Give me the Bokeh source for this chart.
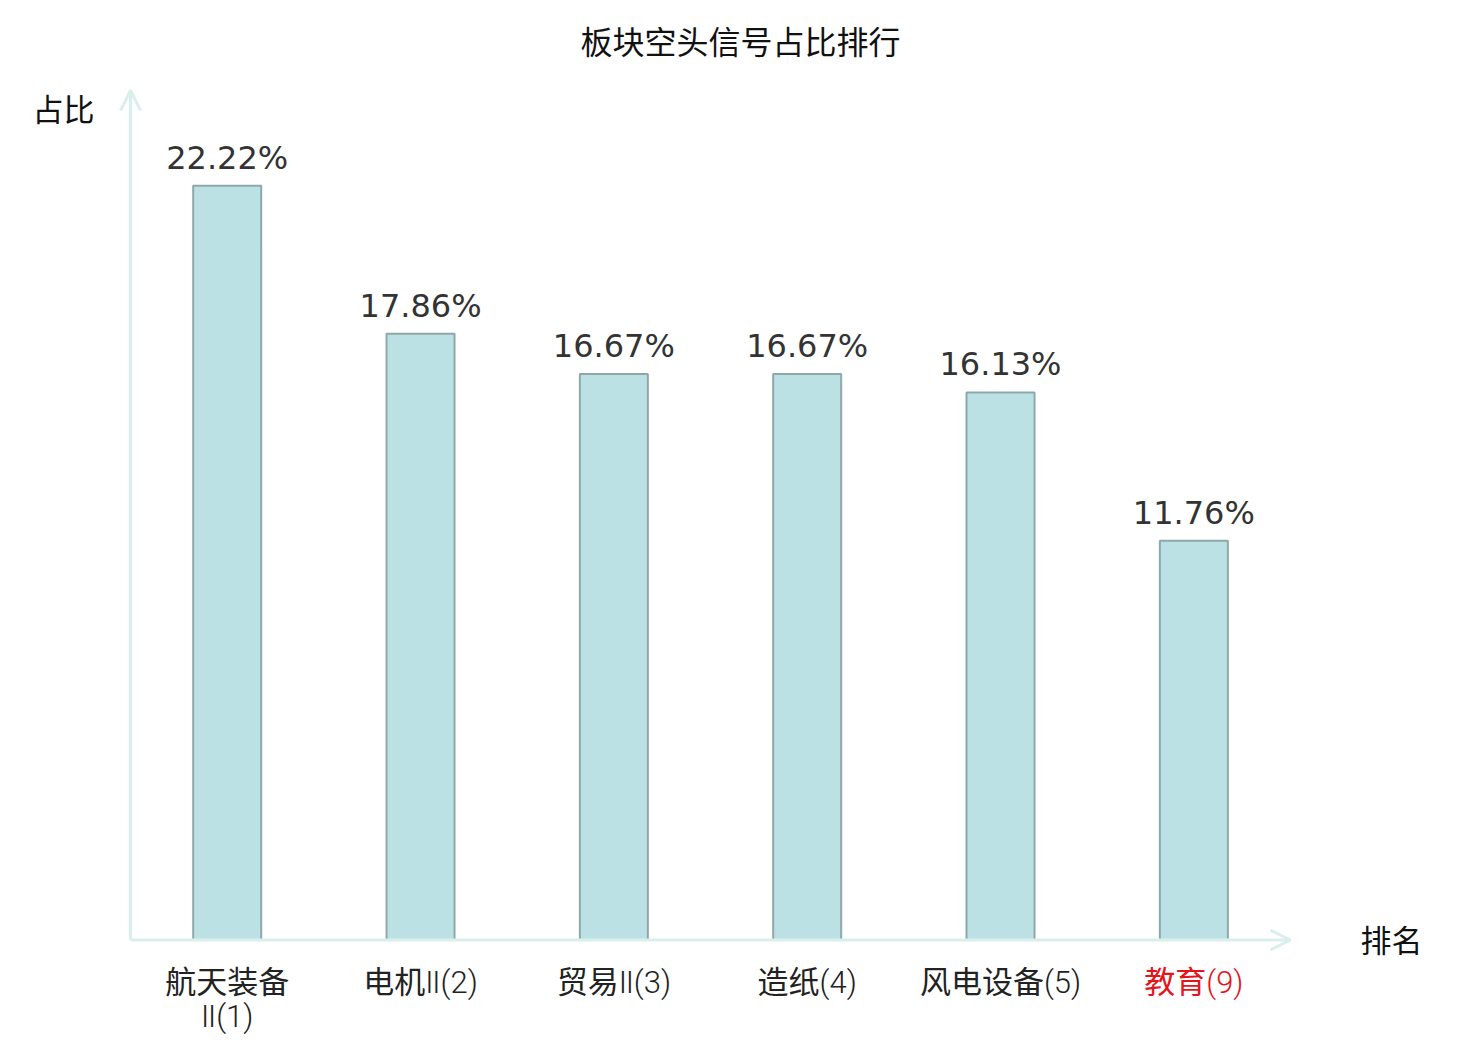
from bokeh.plotting import figure
from bokeh.models import ColumnDataSource, Range1d, Arrow, OpenHead, Label
from bokeh.core.properties import value
from bokeh.embed import file_html
from bokeh.resources import INLINE

# ---- data ----
categories = ["航天装备Ⅱ(1)", "电机Ⅱ(2)", "贸易Ⅱ(3)", "造纸(4)", "风电设备(5)", "教育(9)"]
shares = [22.22, 17.86, 16.67, 16.67, 16.13, 11.76]
highlight = [False, False, False, False, False, True]
title_text = "板块空头信号占比排行"
y_name = "占比"
x_name = "排名"

W, H = 1480, 1040
SX = 193.33   # px per category
SY = 33.95    # px per percent
X0_PAGE = 226.7   # page x of category 0
Y0_PAGE = 939.5   # page y of value 0

x_start = -(X0_PAGE) / SX
x_end = x_start + W / SX
y_end = (Y0_PAGE) / SY
y_start = y_end - H / SY

def dx(px):
    return x_start + px / SX

def dy(py):
    return y_end - py / SY

p = figure(width=W, height=H, output_backend="svg", toolbar_location=None,
           x_range=Range1d(x_start, x_end), y_range=Range1d(y_start, y_end),
           min_border=0, min_border_left=0, min_border_right=0,
           min_border_top=0, min_border_bottom=0)
p.axis.visible = False
p.grid.visible = False
p.outline_line_color = None
p.background_fill_color = "white"
p.border_fill_color = "white"

xs = list(range(len(categories)))

def wrap(s):
    return s[:4] + "\n" + s[4:] if len(s) > 7 else s

src = ColumnDataSource(dict(
    x=xs, top=shares,
    lab=[f"{v:.2f}%" for v in shares],
    cat=[wrap(c) for c in categories],
    ccol=["#e5131b" if h else "#222222" for h in highlight],
))

p.vbar(x="x", top="top", bottom=0, width=68 / SX, source=src,
       fill_color="#bce1e4", line_color="#8ea8a9", line_width=2)

p.text(x="x", y="top", text="lab", source=src, text_align="center",
       text_baseline="alphabetic", y_offset=-28,
       text_font=value("DejaVu Sans"), text_font_size="32px", text_color="#333333")

cat_font = "'Roboto Light', 'Noto Sans CJK SC'"
p.text(x="x", y=dy(963), text="cat", source=src, text_align="center",
       text_baseline="top", text_line_height=0.93,
       text_font=value(cat_font), text_font_size="31px", text_color="ccol")

axis_color = "#d9efec"
p.add_layout(Arrow(x_start=-0.5, y_start=0, x_end=-0.5, y_end=dy(90),
                   line_color=axis_color, line_width=3,
                   end=OpenHead(size=20, line_color=axis_color, line_width=3)))
p.add_layout(Arrow(x_start=-0.5, y_start=0, x_end=dx(1290), y_end=0,
                   line_color=axis_color, line_width=3,
                   end=OpenHead(size=20, line_color=axis_color, line_width=3)))

p.add_layout(Label(x=dx(740), y=dy(39), text=title_text, text_align="center",
                   text_baseline="middle", text_font="Noto Sans CJK SC",
                   text_font_size="32px", text_color="#111111"))
p.add_layout(Label(x=dx(63), y=dy(107), text=y_name, text_align="center",
                   text_baseline="middle", text_font="Noto Sans CJK SC",
                   text_font_size="31px", text_color="#111111"))
p.add_layout(Label(x=dx(1391), y=dy(938), text=x_name, text_align="center",
                   text_baseline="middle", text_font="Noto Sans CJK SC",
                   text_font_size="31px", text_color="#111111"))

open("out.html", "w").write(file_html(p, INLINE))
